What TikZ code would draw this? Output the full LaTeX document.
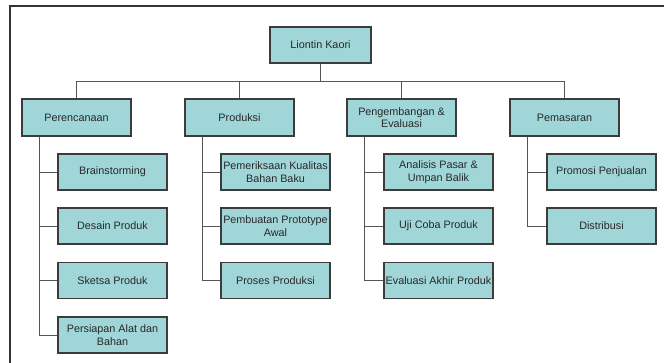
\documentclass[tikz,border=0pt]{standalone}
\usepackage{fontspec}
\setmainfont{Liberation Sans}
\usepackage{tikz}
\usetikzlibrary{calc,positioning}
\definecolor{boxfill}{RGB}{160,214,216}
\definecolor{boxline}{RGB}{60,60,60}
\definecolor{linkcol}{RGB}{85,85,85}
\definecolor{textcol}{RGB}{40,40,40}
\begin{document}
\begin{tikzpicture}[x=1pt,y=-1pt,
  box/.style={draw=boxline,line width=1.1pt,fill=boxfill,text=textcol,align=center,inner sep=0pt,
    minimum width=109pt,minimum height=36pt,font=\fontsize{10.8}{12.6}\selectfont},
  link/.style={draw=linkcol,line width=0.9pt}]
\useasboundingbox (0,0) rectangle (664,363);
\draw[line width=1.6pt,black!80] (664,6) -- (10,6) -- (10,363);
\node[box,minimum width=101pt] (root) at (320.5,45) {Liontin Kaori};
\node[box,minimum height=37pt] (plan) at (76.5,117.5) {Perencanaan};
\node[box,minimum height=37pt] (prod) at (239.5,117.5) {Produksi};
\node[box,minimum height=37pt] (dev) at (401.5,117.5) {Pengembangan \&\\Evaluasi};
\node[box,minimum height=37pt] (mkt) at (564.5,117.5) {Pemasaran};
% Perencanaan
\node[box] (brain) at (112.5,172) {Brainstorming};
\node[box] (desain) at (112.5,226) {Desain Produk};
\node[box] (sketsa) at (112.5,280.5) {Sketsa Produk};
\node[box] (alat) at (112.5,335) {Persiapan Alat dan\\Bahan};
% Produksi
\node[box] (cek) at (275.5,172) {Pemeriksaan Kualitas\\Bahan Baku};
\node[box] (proto) at (275.5,226) {Pembuatan Prototype\\Awal};
\node[box] (proses) at (275.5,280.5) {Proses Produksi};
% Pengembangan & Evaluasi
\node[box] (pasar) at (438.5,172) {Analisis Pasar \&\\Umpan Balik};
\node[box] (uji) at (438.5,226) {Uji Coba Produk};
\node[box] (eval) at (438.5,280.5) {Evaluasi Akhir Produk};
% Pemasaran
\node[box] (promo) at (601.5,172) {Promosi Penjualan};
\node[box] (distr) at (601.5,226) {Distribusi};
\coordinate (bar) at (0,81);
\draw[link] (root.south) -- (root.south |- bar) -| (plan.north);
\draw[link] (root.south |- bar) -| (prod.north);
\draw[link] (root.south |- bar) -| (dev.north);
\draw[link] (root.south |- bar) -| (mkt.north);
\draw[link] ([xshift=18pt]plan.south west) |- (alat.west);
\draw[link] ([xshift=18pt]plan.south west) |- (brain.west);
\draw[link] ([xshift=18pt]plan.south west) |- (desain.west);
\draw[link] ([xshift=18pt]plan.south west) |- (sketsa.west);
\draw[link] ([xshift=18pt]prod.south west) |- (proses.west);
\draw[link] ([xshift=18pt]prod.south west) |- (cek.west);
\draw[link] ([xshift=18pt]prod.south west) |- (proto.west);
\draw[link] ([xshift=18pt]dev.south west) |- (eval.west);
\draw[link] ([xshift=18pt]dev.south west) |- (pasar.west);
\draw[link] ([xshift=18pt]dev.south west) |- (uji.west);
\draw[link] ([xshift=18pt]mkt.south west) |- (distr.west);
\draw[link] ([xshift=18pt]mkt.south west) |- (promo.west);
\end{tikzpicture}
\end{document}
